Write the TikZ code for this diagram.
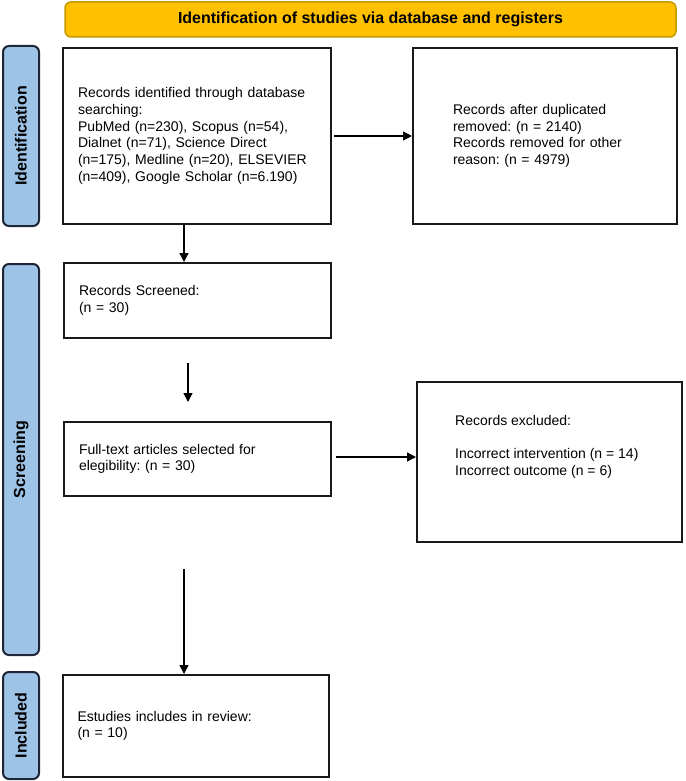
\documentclass[tikz,border=0pt]{standalone}
\usepackage{fontspec}
\setmainfont{Liberation Sans}
\frenchspacing
\usetikzlibrary{positioning, calc, arrows.meta}
\definecolor{headgold}{HTML}{FFC000}
\definecolor{headedge}{HTML}{C49A00}
\definecolor{barblue}{HTML}{9DC3E6}
\definecolor{baredge}{HTML}{1E2635}
\begin{document}
\begin{tikzpicture}[x=1pt, y=-1pt]
\tikzset{box/.style={
    rectangle, draw=black!90, line width=2pt, align=left, inner xsep=15pt,
    font=\fontsize{14}{16.7}\selectfont},
    stagebar/.style={
    rectangle, rounded corners=6pt, draw=baredge, line width=2pt, fill=barblue,
    minimum width=36pt, font=\fontsize{16}{18}\selectfont\bfseries},
    arr/.style={line width=1.3pt, -{Triangle[length=9pt,width=9pt]}}
}
    \useasboundingbox (0,0) rectangle (685,781);

    % header
    \path (370.5,19.5) node[rectangle, rounded corners=6pt, draw=headedge, line width=1.5pt,
        fill=headgold, minimum width=611pt, minimum height=35pt,
        font=\fontsize{16}{18}\selectfont\bfseries] (head) {Identification of studies via database and registers};

    % stage bars
    \path (21,136) node[stagebar, minimum height=180pt] (ident) {};
    \path (ident.center) node[rotate=90, font=\fontsize{16}{18}\selectfont\bfseries] (identtxt) {Identification};
    \path (21,459.5) node[stagebar, minimum height=391pt] (screen) {};
    \path (screen.center) node[rotate=90, font=\fontsize{16}{18}\selectfont\bfseries] (screentxt) {Screening};
    \path (21,725.5) node[stagebar, minimum height=107pt] (incl) {};
    \path (incl.center) node[rotate=90, font=\fontsize{16}{18}\selectfont\bfseries] (incltxt) {Included};

    % boxes
    \path (197,136) node[box, text width=238pt, minimum height=175pt] (found) {Records identified through database\\ searching:\\ PubMed (n=230), Scopus (n=54),\\ Dialnet (n=71), Science Direct\\ (n=175), Medline (n=20), ELSEVIER\\ (n=409), Google Scholar (n=6.190)};
    \path (545,136) node[box, inner xsep=40pt, text width=184pt, minimum height=175pt] (dupl) {Records after duplicated\\ removed: (n = 2140)\\ Records removed for other\\ reason: (n = 4979)};
    \path (197.5,300.5) node[box, text width=237pt, minimum height=75pt] (screened) {Records Screened:\\ (n = 30)};
    \path (197.5,459) node[box, text width=237pt, minimum height=74pt] (fulltext) {Full-text articles selected for\\ elegibility: (n = 30)};
    \path (549.5,462) node[box, minimum width=265pt, minimum height=160pt] (excl) {};
    \path ($(excl.north west)+(39,34)$) node[anchor=north west, align=left, inner sep=0pt,
        font=\fontsize{14}{16.7}\selectfont] (excltxt) {Records excluded:\\[16.7pt] Incorrect intervention (n = 14)\\ Incorrect outcome (n = 6)};
    \path (195.5,726) node[box, text width=236pt, minimum height=102pt] (review) {Estudies includes in review:\\ (n = 10)};

    % arrows
    \coordinate (gap1) at (188,363);
    \coordinate (gap2) at (188,402);
    \coordinate (gap3) at (184,569);
    \draw[arr, shorten <=2pt] (found) -- (found.east -| dupl.west);
    \draw[arr] ([xshift=-13pt]found.south) -- ([xshift=-13pt]found.south |- screened.north);
    \draw[arr] (gap1) -- (gap2);
    \draw[arr] ([xshift=4pt,yshift=2pt]fulltext.east) -- ([yshift=2pt]fulltext.east -| excl.west);
    \draw[arr] (gap3) -- (gap3 |- review.north);
\end{tikzpicture}
\end{document}
